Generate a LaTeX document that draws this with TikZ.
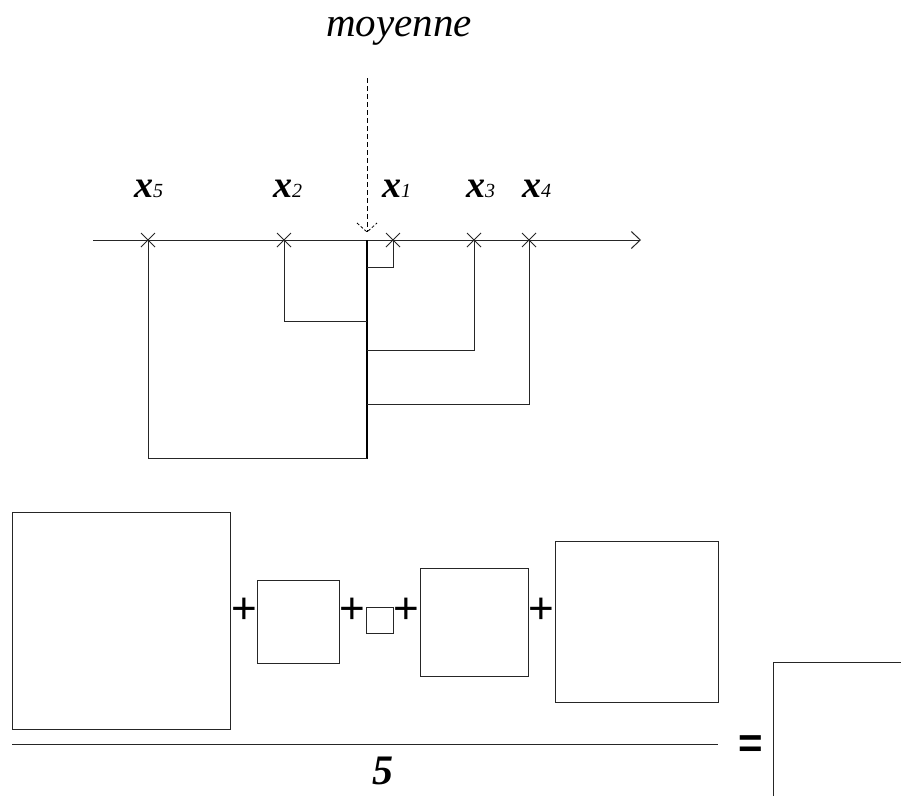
\documentclass[tikz,border=0pt]{standalone}
\usepackage{fontspec}
\setmainfont{Liberation Serif}
\newfontfamily\sansf{Liberation Sans}
\usetikzlibrary{arrows.meta,calc}
\tikzset{
  ln/.style={line width=1pt, draw=black!85},
  meanline/.style={line width=2pt, draw=black},
  sq/.style={draw=black!85, line width=1pt, inner sep=0pt, outer sep=0pt, rectangle},
  xlab/.style={anchor=base west, inner sep=0pt},
  opsign/.style={inner sep=0pt, font=\sansf\fontsize{44}{46}\selectfont},
}
\newcommand{\xl}[1]{{\fontsize{38}{40}\selectfont\bfseries\itshape x}{\fontsize{20}{22}\selectfont\itshape #1}}
\begin{document}
\begin{tikzpicture}[x=1pt,y=-1pt]
\useasboundingbox (0,0) rectangle (901,796);
% title
\node[inner sep=0pt, anchor=base, font=\fontsize{41}{43}\selectfont\itshape] (moy) at (399,36) {moyenne};
% axis
\coordinate (a0) at (93,240);
\coordinate (a1) at (641,240);
\draw[ln, -{Straight Barb[length=9pt,width=17pt,line width=1pt]}] (a0) -- (a1);
% points
\coordinate (p5) at (148,240);
\coordinate (p2) at (284,240);
\coordinate (m)  at (367,240);
\coordinate (p1) at (393,240);
\coordinate (p3) at (474,240);
\coordinate (p4) at (529,240);
\coordinate (mt) at (367,78);
\foreach \p in {p5,p2,p1,p3,p4}{
  \draw[ln] ($(\p)+(-7,-7)$) -- ($(\p)+(7,7)$);
  \draw[ln] ($(\p)+(-7,7)$) -- ($(\p)+(7,-7)$);
}
% labels
\node[xlab] (l5) at (134,197) {\xl{5}};
\node[xlab] (l2) at (273,197) {\xl{2}};
\node[xlab] (l1) at (382,197) {\xl{1}};
\node[xlab] (l3) at (466,197) {\xl{3}};
\node[xlab] (l4) at (522,197) {\xl{4}};
% dashed arrow
\coordinate (mtip) at (367,232);
\draw[line width=1pt, dash pattern=on 5pt off 3pt] (mt) -- (mtip);
\draw[line width=0.8pt, dash pattern=on 3pt off 2pt] (357,223) -- (mtip) -- (377,223);
% squares from points
\draw[meanline] (m) -- (367,459);
\draw[ln] (p1) -- (393,267) -- (367,267);
\draw[ln] (p2) -- (284,321) -- (367,321);
\draw[ln] (p3) -- (474,350) -- (367,350);
\draw[ln] (p4) -- (529,404) -- (367,404);
\draw[ln] (p5) -- (148,458) -- (367,458);
% bottom squares
\node[sq, minimum width=218pt, minimum height=217pt] (b5) at (121,620.5) {};
\node[sq, minimum width=82pt, minimum height=83pt] (b2) at (298,621.5) {};
\node[sq, minimum width=27pt, minimum height=26pt] (b1) at (380,620) {};
\node[sq, minimum width=108pt, minimum height=108pt] (b3) at (474.5,622) {};
\node[sq, minimum width=163pt, minimum height=161pt] (b4) at (637,622) {};
\node[opsign] (s1) at (244,611) {+};
\node[opsign] (s2) at (352,611) {+};
\node[opsign] (s3) at (406.5,611) {+};
\node[opsign] (s4) at (541.5,611) {+};
% fraction
\coordinate (f0) at (12,744);
\coordinate (f1) at (718,744);
\draw[ln] (f0) -- (f1);
\node[inner sep=0pt, font=\fontsize{42}{44}\selectfont\bfseries\itshape] (five) at (383,771) {5};
\node[inner sep=0pt, font=\sansf\bfseries\fontsize{42}{44}\selectfont] (eq) at (751,747) {=};
% result square
\coordinate (r0) at (773,796);
\coordinate (r1) at (773,662);
\coordinate (r2) at (901,662);
\draw[ln] (r0) -- (r1) -- (r2);
\end{tikzpicture}
\end{document}
